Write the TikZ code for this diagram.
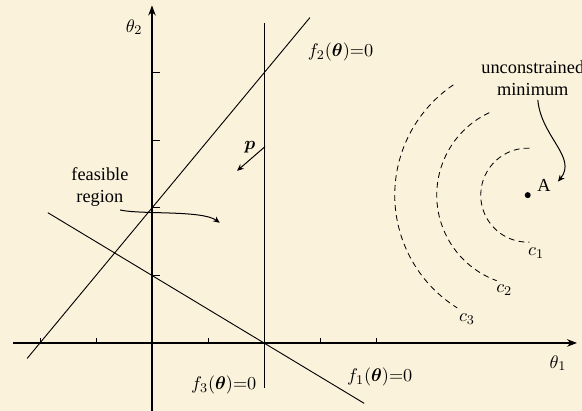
\documentclass[tikz,border=0pt]{standalone}
\usepackage{amsmath,amssymb,bm}
\usepackage{fontspec}
\setmainfont{Liberation Serif}
\usetikzlibrary{positioning,arrows.meta}
\definecolor{paper}{RGB}{251,242,220}

\begin{document}
\begin{tikzpicture}[x=33.6pt, y=40.5pt,
  axis/.style={line width=0.75pt, -{Stealth[length=6pt, width=4.5pt]}},
  curve/.style={line width=0.55pt},
  level/.style={line width=0.5pt, dash pattern=on 3.5pt off 2.5pt},
  lbl/.style={font=\fontsize{11}{13}\selectfont, inner sep=1pt, align=center},
  arr/.style={line width=0.6pt, -{Stealth[length=4pt, width=3.5pt]}}]
\fill[paper] (-2.714,-1.007) rectangle (7.679,5.081);
\useasboundingbox (-2.714,-1.007) rectangle (7.679,5.081);
% axes
\coordinate (xs) at (-2.48,0);
\coordinate (xe) at (7.59,0);
\coordinate (ys) at (0,-1.01);
\coordinate (ye) at (0,5.0);
\draw[axis] (xs) -- (xe);
\draw[axis] (ys) -- (ye);
\foreach \t in {-2,-1,1,3,4} \draw[curve] (\t,0) -- ++(0,0.075);
\foreach \t in {1,...,4} \draw[curve] (0,\t) -- ++(0.14,0);
\node[lbl] (th2) at (-0.32,4.68) {$\theta_2$};
\node[lbl] (th1) at (7.25,-0.30) {$\theta_1$};
% constraints
\coordinate (f3a) at (2,4.74);
\coordinate (f3b) at (2,-0.667);
\coordinate (f2a) at (-2.23,-0.23);
\coordinate (f2b) at (2.82,4.82);
\coordinate (f1a) at (-1.86,1.93);
\coordinate (f1b) at (3.79,-0.895);
\foreach \a/\b in {f3a/f3b,f2a/f2b,f1a/f1b} \draw[curve] (\a) -- (\b);
\node[lbl, anchor=west] (lf2) at (2.75,4.31) {$f_2(\boldsymbol{\theta}){=}0$};
\node[lbl, anchor=east] (lf3) at (1.9,-0.62) {$f_3(\boldsymbol{\theta}){=}0$};
\node[lbl, anchor=west] (lf1) at (3.45,-0.50) {$f_1(\boldsymbol{\theta}){=}0$};
% direction p
\node[lbl] (p) at (1.75,2.90) {$\boldsymbol{p}$};
\coordinate (ps) at (2.02,2.91);
\coordinate (pe) at (1.52,2.55);
\draw[arr] (ps) -- (pe);
% feasible region
\node[lbl] (feas) at (-0.93,2.31) {feasible\\region};
\coordinate (fs) at (-0.57,1.97);
\coordinate (ft) at (1.21,1.78);
\draw[arr] (fs) .. controls (-0.2,1.90) and (0.9,1.97) .. (ft);
% unconstrained minimum and level curves
\node[circle, fill, inner sep=0pt, minimum size=3.6pt] (ptA) at (6.71,2.19) {};
\node[lbl] (lA) at (7.0,2.34) {A};
\node[lbl] (umin) at (6.8,3.92) {unconstrained\\minimum};
\coordinate (us) at (6.89,3.60);
\coordinate (ut) at (7.25,2.39);
\draw[arr] (us) .. controls (6.95,3.05) and (7.6,2.75) .. (ut);
\foreach \r/\a/\b in {28.2/88/272, 54.6/115/250, 79.8/124/238}
  \draw[level] (ptA.center) ++(\a:\r pt) arc[start angle=\a, end angle=\b, radius=\r pt];
\node[lbl] (c1) at (6.86,1.33) {$c_1$};
\node[lbl] (c2) at (6.29,0.785) {$c_2$};
\node[lbl] (c3) at (5.625,0.356) {$c_3$};
\end{tikzpicture}
\end{document}
